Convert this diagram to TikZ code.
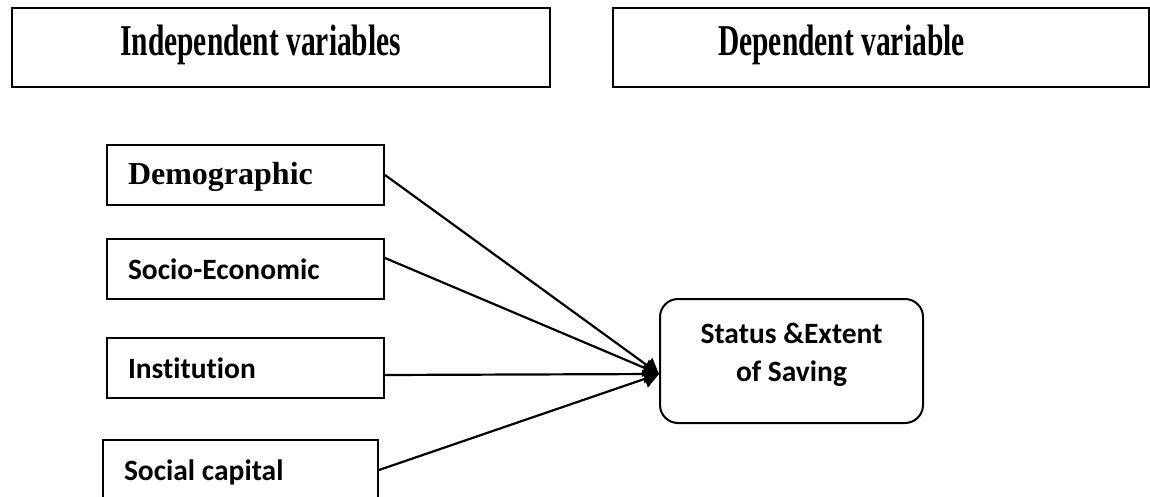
\documentclass[tikz,border=0pt]{standalone}
\usepackage{fontspec}
\setmainfont{Liberation Serif}
\newfontfamily\carlito[Ligatures=NoCommon]{Carlito}
\newfontfamily\narrowserif[FakeStretch=0.67]{Liberation Serif}
\usetikzlibrary{arrows.meta,positioning}
\tikzset{
  headbox/.style={draw, line width=1.2pt, anchor=north west, align=flush left, inner ysep=0pt, text height=23.5pt, text depth=16pt, font=\narrowserif\fontsize{22}{26}\selectfont\bfseries},
  varbox/.style={draw, line width=1pt, anchor=north west, align=flush left, inner xsep=10.5pt, inner ysep=0pt, text width=117.5pt, text height=20pt, text depth=10pt, font=\carlito\fontsize{14.75}{18}\selectfont\bfseries},
  outbox/.style={draw, line width=1pt, rounded corners=9pt, anchor=north west, align=center, inner ysep=0pt, minimum width=131.5pt, text height=41pt, text depth=21pt, font=\carlito\fontsize{14.75}{19}\selectfont\bfseries},
  arrow/.style={-{Triangle[length=7.5pt,width=9pt]}, line width=1.1pt}
}
\begin{document}
\begin{tikzpicture}[x=0.5pt, y=-0.5pt]
\useasboundingbox (0,0) rectangle (1150,497);
\node[headbox, inner xsep=54.25pt, text width=160.5pt] (indep) at (10.5,7) {Independent variables};
\node[headbox, inner xsep=52.5pt, text width=163pt] (dep) at (612,7) {Dependent variable};

\node[varbox, font=\fontsize{16}{18}\selectfont\bfseries] (demo) at (106,144) {Demographic};
\node[varbox] (socio) at (106,238) {Socio-Economic};
\node[varbox] (inst) at (106,337) {Institution};
\node[varbox, text width=116.5pt] (social) at (102,439) {Social capital};

\node[outbox] (status) at (659,298) {Status \&Extent\\of Saving};

\draw[arrow] (demo.east) -- ([yshift=-6.5pt]status.west);
\draw[arrow] ([yshift=5.5pt]socio.east) -- ([yshift=-6.5pt]status.west);
\draw[arrow] ([yshift=-3.5pt]inst.east) -- ([yshift=-6.5pt]status.west);
\draw[arrow] (social.east) -- ([yshift=-6.5pt]status.west);
\end{tikzpicture}
\end{document}
